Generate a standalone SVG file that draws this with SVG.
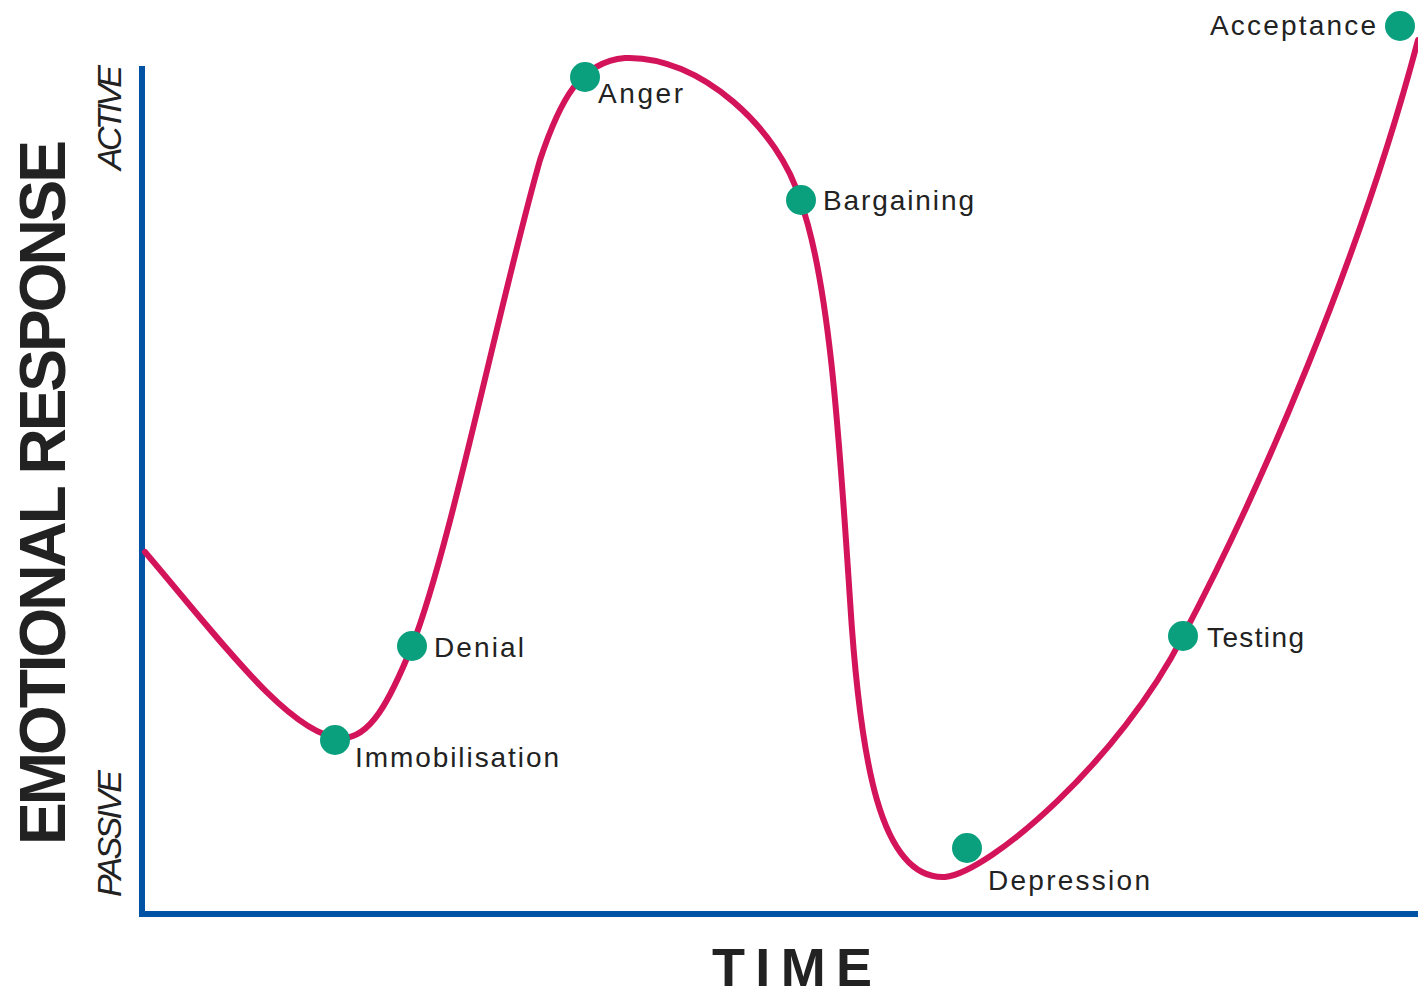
<svg xmlns="http://www.w3.org/2000/svg" width="1418" height="995" viewBox="0 0 1418 995">
<style>
.axis{stroke:#0052a5;stroke-width:6;fill:none}
.curve{stroke:#d4145a;stroke-width:6;fill:none;stroke-linecap:round}
.dot{fill:#0aa07e}
.lbl{font-family:"Liberation Sans",Arial,sans-serif;font-size:28px;fill:#222}
.big{font-family:"Liberation Sans",Arial,sans-serif;font-weight:bold;fill:#222}
.side{font-family:"Liberation Sans",Arial,sans-serif;font-style:italic;font-size:34px;fill:#222}
</style>
<rect width="1418" height="995" fill="#fff"/>
<g id="axes">
<polyline class="axis" points="142,66 142,914 1418,914"/>
</g>
<g id="connectors">
<path class="curve" d="M145,552 C220,640 290,735 340,738 C370,740 390,700 412,646 C450,550 500,300 540,160 C560,100 580,62 625,58 C700,55 780,130 800,200 C830,280 840,450 850,600 C860,760 880,880 945,877 C990,872 1120,760 1183,636 C1260,490 1360,260 1418,40"/>
</g>
<g id="node-immobilisation"><circle class="dot" cx="335" cy="740" r="15"/><text class="lbl" x="355" y="767" textLength="204">Immobilisation</text></g>
<g id="node-denial"><circle class="dot" cx="412" cy="646" r="15"/><text class="lbl" x="434" y="657" textLength="90">Denial</text></g>
<g id="node-anger"><circle class="dot" cx="585" cy="77" r="15"/><text class="lbl" x="598" y="103" textLength="85">Anger</text></g>
<g id="node-bargaining"><circle class="dot" cx="801" cy="200" r="15"/><text class="lbl" x="823" y="210" textLength="151">Bargaining</text></g>
<g id="node-depression"><circle class="dot" cx="967" cy="848" r="15"/><text class="lbl" x="988" y="890" textLength="162">Depression</text></g>
<g id="node-testing"><circle class="dot" cx="1183" cy="636" r="15"/><text class="lbl" x="1207" y="647" textLength="97">Testing</text></g>
<g id="node-acceptance"><circle class="dot" cx="1400" cy="26" r="15"/><text class="lbl" x="1210" y="35" textLength="166">Acceptance</text></g>
<g id="labels">
<text class="big" font-size="64" transform="translate(65,845) rotate(-90)" textLength="705">EMOTIONAL RESPONSE</text>
<text class="big" font-size="54" x="712" y="986" textLength="160">TIME</text>
<text class="side" transform="translate(121,170) rotate(-90)" textLength="105">ACTIVE</text>
<text class="side" transform="translate(121,897) rotate(-90)" textLength="127">PASSIVE</text>
</g>
</svg>
